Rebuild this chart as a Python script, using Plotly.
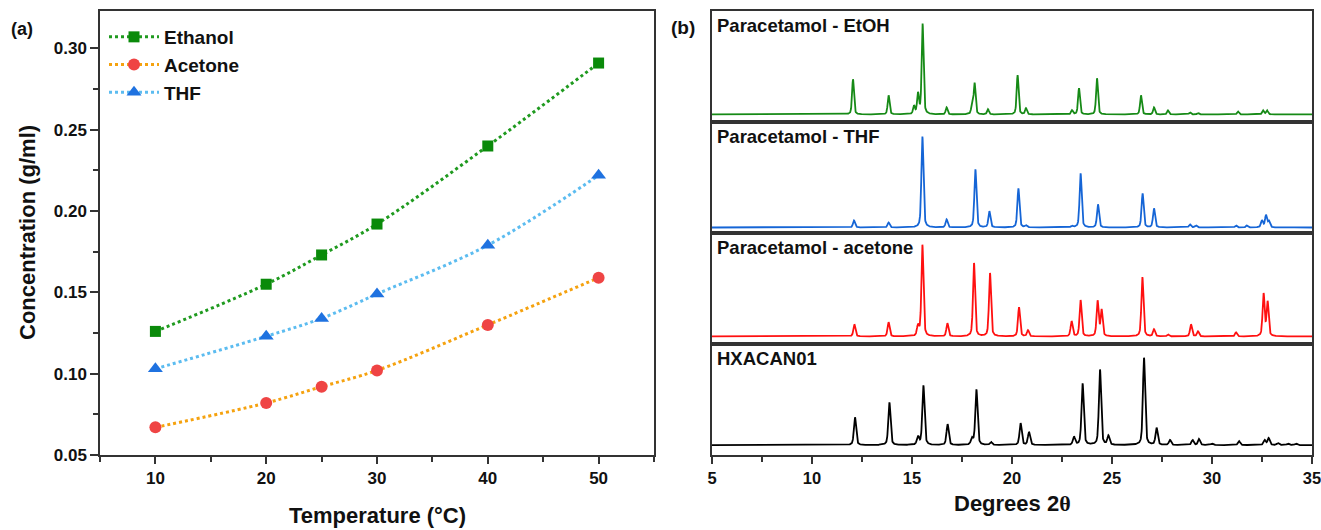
import numpy as np
import plotly.graph_objects as go

# ---------------- data: panel (a) ----------------
temperature = [10, 20, 25, 30, 40, 50]
ethanol = [0.126, 0.155, 0.173, 0.192, 0.240, 0.291]
acetone = [0.067, 0.082, 0.092, 0.102, 0.130, 0.159]
thf = [0.103, 0.123, 0.134, 0.149, 0.179, 0.222]

# ---------------- data: panel (b) peak lists (2theta, relative intensity) ----------------
etoh_pos = [12.05, 13.83, 15.1, 15.3, 15.53, 16.73, 18.0, 18.13, 18.8, 20.28, 20.7,
            23.0, 23.35, 24.25, 26.45, 27.1, 27.8, 28.9, 29.3, 31.3, 32.55, 32.75]
etoh_int = [35, 19, 8, 20, 90, 7, 8, 31, 5, 39, 6,
            4, 26, 36, 19, 7, 4, 2, 1.5, 3, 4, 4]

thf_pos = [12.1, 13.83, 15.52, 16.73, 18.17, 18.87, 20.32, 20.7, 23.0, 23.43, 24.3,
           26.53, 27.1, 28.9, 29.2, 31.2, 31.75, 32.5, 32.7, 32.85]
thf_int = [7, 5, 91, 8, 58, 16, 39, 2, 1.5, 54, 23,
           34, 19, 3, 2, 2, 2, 7, 12, 6]

ace_pos = [12.12, 13.83, 15.3, 15.52, 16.77, 18.1, 18.9, 20.35, 20.8, 22.98, 23.43,
           24.28, 24.48, 26.52, 27.1, 27.8, 28.95, 29.3, 31.2, 32.58, 32.78]
ace_int = [12, 14, 10, 91, 13, 73, 63, 29, 6, 15, 36,
           35, 26, 59, 7, 2, 12, 5, 4, 42, 34]

hx_pos = [12.15, 13.87, 15.3, 15.57, 16.78, 18.0, 18.22, 18.95, 20.43, 20.85, 23.1,
          23.53, 24.4, 24.82, 26.6, 27.23, 27.9, 29.03, 29.35, 30.0, 31.35, 32.63,
          32.83, 33.3, 33.8, 34.2]
hx_int = [28, 43, 8, 60, 21, 6, 56, 3, 22, 13, 8,
          62, 76, 9, 88, 17, 5, 5, 6, 1.5, 4, 5,
          7, 2, 1.5, 1.5]

pattern_names = ["Paracetamol - EtOH", "Paracetamol - THF", "Paracetamol - acetone", "HXACAN01"]

# ---------------- styling / layout helpers ----------------
W, H = 1321, 530
MT, MB = 11, 75
PH = H - MT - MB
FONT = "Liberation Sans, Arial, sans-serif"


def px(x):
    return x / W


def py(y):
    return 1 - (y - MT) / PH


def profile(x, pos, inten, fwhm):
    y = np.zeros_like(x)
    g = fwhm / 2.0
    s = fwhm / 2.3548
    for p, h in zip(pos, inten):
        lor = 1.0 / (1.0 + ((x - p) / g) ** 2)
        gau = np.exp(-0.5 * ((x - p) / s) ** 2)
        y += h * (0.55 * gau + 0.45 * lor)
    return y


fig = go.Figure()

# panel (a)
fig.add_trace(go.Scatter(x=temperature, y=ethanol, name="Ethanol", mode="lines+markers",
                         line=dict(color="#1f9a1f", dash="dot", width=3, shape="spline"),
                         marker=dict(symbol="square", size=11, color="#0a8a0a"),
                         xaxis="x", yaxis="y"))
fig.add_trace(go.Scatter(x=temperature, y=acetone, name="Acetone", mode="lines+markers",
                         line=dict(color="#f5a20f", dash="dot", width=3, shape="spline"),
                         marker=dict(symbol="circle", size=12, color="#ef4444"),
                         xaxis="x", yaxis="y"))
fig.add_trace(go.Scatter(x=temperature, y=thf, name="THF", mode="lines+markers",
                         line=dict(color="#5cbcf0", dash="dot", width=3, shape="spline"),
                         marker=dict(symbol="triangle-up", size=13, color="#1f72e0"),
                         xaxis="x", yaxis="y"))

# panel (b)
tt = np.arange(5.0, 35.0001, 0.01)
patterns = [(etoh_pos, etoh_int, 0.11, "#168a16"),
            (thf_pos, thf_int, 0.12, "#1565d6"),
            (ace_pos, ace_int, 0.12, "#ff1010"),
            (hx_pos, hx_int, 0.13, "#000000")]
for i, (pos, inten, fw, col) in enumerate(patterns):
    fig.add_trace(go.Scatter(x=tt, y=profile(tt, pos, inten, fw), mode="lines",
                             line=dict(color=col, width=1.8), showlegend=False,
                             xaxis="x%d" % (i + 2), yaxis="y%d" % (i + 2)))

frame = dict(showline=True, linecolor="#333333", linewidth=1.5, mirror=True,
             showgrid=False, zeroline=False)
tickfont = dict(family=FONT, size=17, color="#111111", weight="bold")

layout = dict(
    width=W, height=H,
    margin=dict(l=0, r=0, t=MT, b=MB, autoexpand=False),
    paper_bgcolor="white", plot_bgcolor="white",
    font=dict(family=FONT, color="#111111"),
    legend=dict(x=px(104), y=py(18), xanchor="left", yanchor="top",
                font=dict(family=FONT, size=19, weight="bold", color="#111111"),
                bgcolor="rgba(0,0,0,0)", itemwidth=50, tracegroupgap=0),
    xaxis=dict(domain=[px(100), px(654)], range=[5, 55], anchor="y",
               tickmode="array", tickvals=[10, 20, 30, 40, 50],
               ticks="outside", ticklen=7, tickwidth=1.5, tickcolor="#333333",
               minor=dict(tickvals=[5, 15, 25, 35, 45, 55], ticks="outside", ticklen=5,
                          tickwidth=1.5, tickcolor="#333333"),
               tickfont=tickfont, **frame),
    yaxis=dict(domain=[0, 1], range=[0.05, 0.323], anchor="x",
               tickmode="array", tickvals=[0.05, 0.10, 0.15, 0.20, 0.25, 0.30],
               tickformat=".2f",
               ticks="outside", ticklen=8, tickwidth=1.5, tickcolor="#333333",
               minor=dict(tickvals=[0.075, 0.125, 0.175, 0.225, 0.275], ticks="outside",
                          ticklen=5, tickwidth=1.5, tickcolor="#333333"),
               tickfont=tickfont, **frame),
)

yranges = [[-7.5, 103], [-5.5, 105.5], [-7.5, 103], [-10, 102]]
doms = [[0.75, 1.0], [0.5, 0.75], [0.25, 0.5], [0.0, 0.25]]
for i in range(4):
    xa = "xaxis%d" % (i + 2)
    ya = "yaxis%d" % (i + 2)
    xd = dict(domain=[px(712), px(1312)], range=[5, 35], anchor="y%d" % (i + 2),
              showticklabels=False, ticks="", **frame)
    if i > 0:
        xd["matches"] = "x2"
    if i == 3:
        xd.update(showticklabels=True, tickmode="array",
                  tickvals=[5, 10, 15, 20, 25, 30, 35], ticks="outside", ticklen=7,
                  tickwidth=1.5, tickcolor="#333333", ticklabeloverflow="allow",
                  minor=dict(tickvals=[7.5, 12.5, 17.5, 22.5, 27.5, 32.5], ticks="outside",
                             ticklen=5, tickwidth=1.5, tickcolor="#333333"),
                  tickfont=dict(family=FONT, size=16.5, color="#111111", weight="bold"))
    layout[xa] = xd
    layout[ya] = dict(domain=doms[i], range=yranges[i], anchor="x%d" % (i + 2),
                      showticklabels=False, ticks="", **frame)

fig.update_layout(**layout)

ann = []


def add_text(text, x, y, size, xanchor="center", textangle=0):
    ann.append(dict(text=text, x=px(x), y=py(y), xref="paper", yref="paper",
                    xanchor=xanchor, yanchor="middle", showarrow=False, textangle=textangle,
                    font=dict(family=FONT, size=size, weight="bold", color="#111111")))


add_text("(a)", 22, 29, 18)
add_text("(b)", 683, 28, 19)
add_text("Concentration (g/ml)", 27, 233, 22, textangle=-90)
add_text("Temperature (°C)", 377, 515, 22)
add_text("Degrees 2<span style='font-family:Liberation Serif, serif'>θ</span>", 1012, 503, 22)
label_y = [25, 136, 247, 358]
for name, yy in zip(pattern_names, label_y):
    add_text(name, 715, yy, 18.5, xanchor="left")

fig.update_layout(annotations=ann)

fig.write_html("out.html")
